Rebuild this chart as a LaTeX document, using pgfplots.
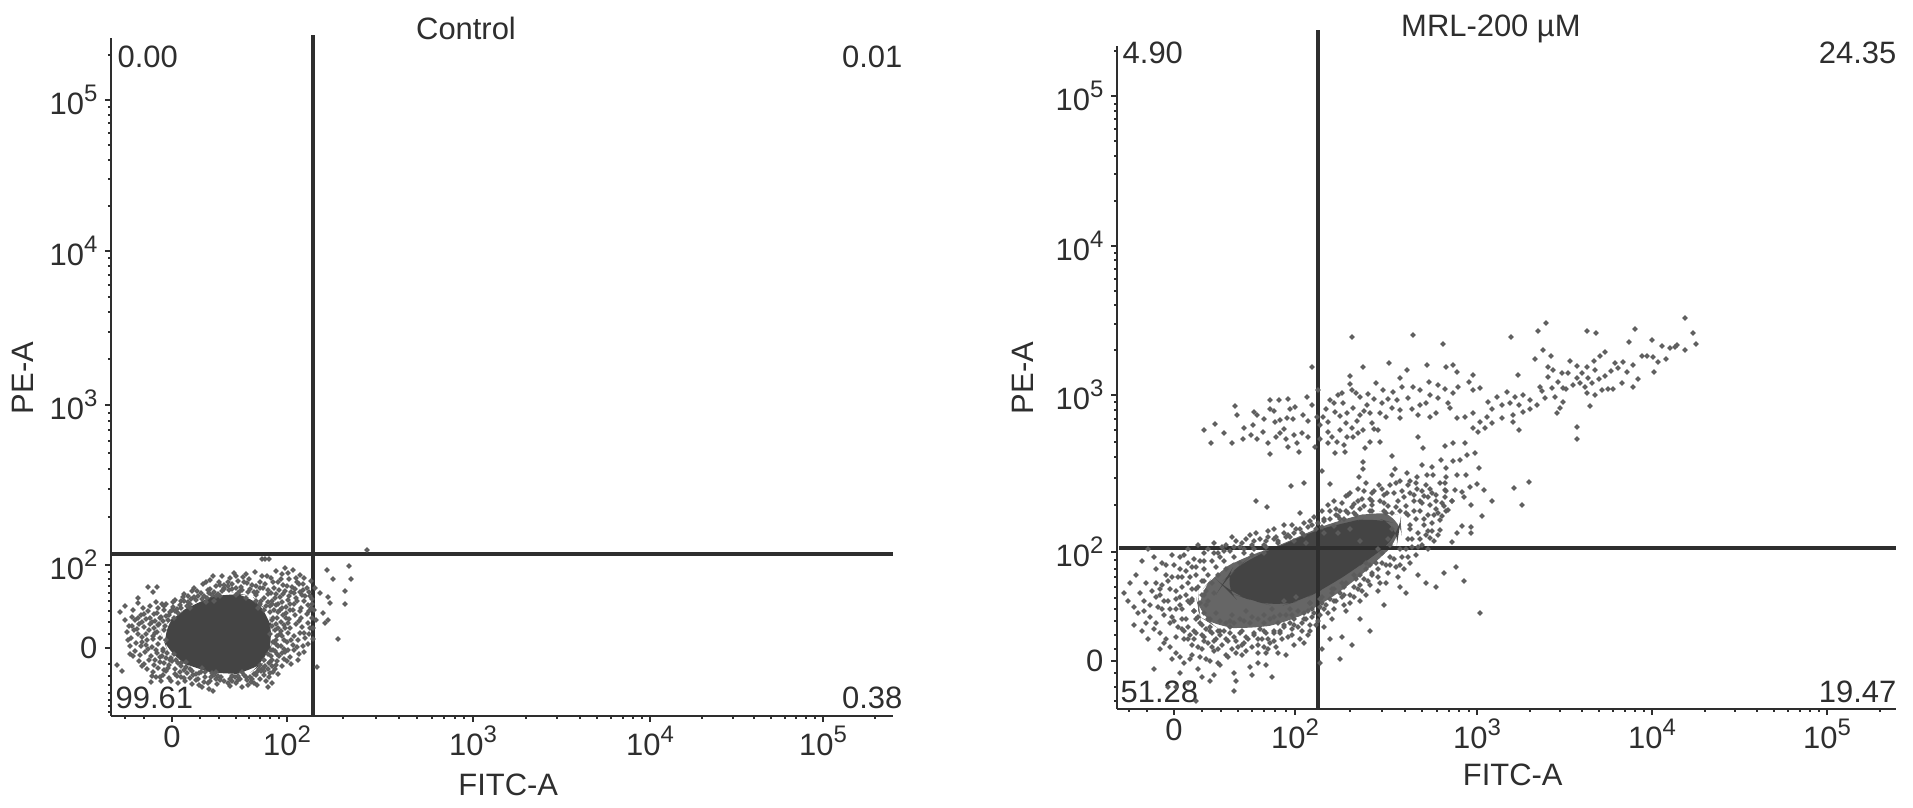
\documentclass[border=0pt]{standalone}
\usepackage{fontspec}
\setmainfont{Liberation Sans}
\usepackage{pgfplots}
\pgfplotsset{compat=1.18}

\definecolor{ink}{HTML}{2E2E2E}
\definecolor{dot}{HTML}{5C5C5C}
\definecolor{core}{HTML}{444444}
\definecolor{mid}{HTML}{666666}

\newcommand{\dec}[1]{10\raisebox{0.42em}{\fontsize{6.8}{7}\selectfont #1}}

% axes are in display channels (biexponential scale), 0 = the tick "0"
\pgfplotsset{
  flow/.style={
    scale only axis, anchor=south west, clip=false,
    axis lines=left, axis line style={-, ink, line width=0.7pt},
    tick align=outside, tick style={ink, line width=0.4pt},
    major tick length=0.06cm, minor tick length=0.03cm,
    xticklabels={0,\dec{2},\dec{3},\dec{4},\dec{5}},
    yticklabels={0,\dec{2},\dec{3},\dec{4},\dec{5}},
    tick label style={inner sep=0pt, text=ink},
    xticklabel style={yshift=-0.03cm},
    yticklabel style={xshift=-0.07cm},
    font=\fontsize{8.8}{10}\selectfont,
    xlabel=FITC-A, ylabel=PE-A,
    label style={text=ink},
    every axis title shift=0pt,
  },
  cell/.style={only marks, color=dot, mark=*, mark size=0.55pt, mark options={draw=none, fill=dot, fill opacity=0.85}},
  blob/.style={draw=none, no markers, rounded corners=6pt},
  gate/.style={ink, line width=1pt, no markers},
}

\begin{document}
\begin{tikzpicture}
\path[use as bounding box] (0,0) rectangle (19.13,8.08);

% ===== Control =====
\begin{axis}[flow,
  at={(1.11cm,0.92cm)}, width=7.82cm, height=6.78cm,
  xmin=-61, xmax=721, ymin=-68, ymax=610,
  xtick={0,115,301,478,651}, ytick={0,83,243,397,548},
  minor xtick={-47,-28,28,47,64,77,88,98,107,171,204,227,245,260,272,283,292,354,385,408,425,439,451,461,470,530,561,582,599,613,624,634,643,703},
  minor ytick={-64,-58,-52,-45,-37,-28,-16,14,26,37,47,55,62,69,76,131,159,179,195,207,218,227,235,289,316,336,351,363,373,382,390,442,469,488,503,515,525,533,541,593},
  title=Control,
  title style={at={(axis description cs:0.454,1.0147)}, anchor=center, inner sep=0pt, text=ink},
  xlabel style={at={(axis description cs:0.508,-0.102)}, anchor=center},
  ylabel style={at={(axis description cs:-0.1125,0.4985)}, anchor=center},
]
\addplot[blob, fill=core] coordinates {
 (-7,4)(-12,18)(4,33)(26,47)(56,56)(80,52)(96,36)(102,11)(95,-12)(78,-25)(53,-27)(26,-22)(-2,-9)} -- cycle;
\addplot[cell] coordinates {
(93,89)(97,89)(90,89)(177,82)(155,78)(161,69)(179,69)(173,57)(173,44)(166,9)(156,51)(158,45)(151,35)(156,28)(153,25)(148,55)(145,-19)(195,98)
(-55,-17)(-50,-23)(-42,-6)(-47,42)(-52,36)(-40,31)(-47,28)(-45,16)(-24,61)(-15,61)(-19,56)(-34,50)(-34,45)(-21,-34)(-12,-29)(41,-43)(96,-39)(100,-35)(85,-37)
(50,72)(62,75)(71,71)(83,76)(95,72)(110,74)(121,78)(128,73)(113,80)(104,77)(38,68)(47,66)(58,70)(66,67)(77,69)(88,66)(99,70)(106,66)(117,69)(125,66)(132,70)(22,60)(31,64)(44,62)(52,60)(60,64)(69,61)(75,65)(84,62)(93,64)(102,60)(111,63)(120,61)(127,64)(135,60)(139,67)
(12,54)(20,57)(29,55)(38,59)(46,54)(57,58)(66,55)(78,59)(85,56)(96,58)(104,54)(113,57)(122,55)(131,58)(138,52)(3,48)(11,51)(19,49)(26,52)(35,50)(42,47)(92,50)(100,47)(108,51)(116,48)(124,50)(132,47)(140,49)(-6,44)(1,46)(8,43)(15,42)(98,42)(106,44)(114,41)(122,44)(129,40)(136,43)(142,38)
(-14,40)(-8,38)(-2,36)(5,39)(-24,37)(-18,34)(-11,31)(-4,28)(-31,33)(-26,29)(-20,26)(-14,23)(-7,22)(-37,28)(-33,24)(-28,21)(-23,18)(-17,15)(-38,18)(-34,14)(-30,11)(-25,8)(-19,9)(-41,10)(-36,5)(-31,2)(-26,3)(-20,1)(-14,4)(-42,2)(-37,-3)(-32,-7)(-27,-4)(-21,-8)(-15,-5)(-9,-3)(-33,-13)(-28,-16)(-23,-12)(-18,-17)(-12,-14)(-6,-10)(0,-13)
(-25,-21)(-19,-24)(-14,-20)(-8,-22)(-3,-17)(3,-21)(9,-18)(-16,-29)(-9,-27)(-3,-30)(3,-26)(9,-29)(15,-25)(21,-27)(6,-35)(13,-33)(20,-36)(26,-31)(32,-34)(39,-29)(45,-36)(30,-39)(37,-41)(52,-33)(58,-38)(64,-35)(70,-39)(75,-32)(82,-35)(88,-31)(92,-27)(97,-29)(101,-24)(106,-26)(110,-18)(115,-13)(104,-17)(96,-21)(89,-23)(84,-27)
(100,-12)(107,-8)(113,-4)(118,-9)(122,-2)(127,-6)(103,-3)(109,2)(115,6)(121,3)(126,8)(131,2)(104,8)(110,12)(116,15)(122,12)(128,15)(133,10)(137,14)(106,20)(112,23)(118,20)(124,24)(130,21)(136,25)(141,20)(105,30)(111,33)(117,29)(123,33)(129,30)(135,34)(140,30)(108,38)(118,38)(128,37)(137,37)
(36,58)(52,63)(-29,40)(-39,38)(-43,22)(27,-37)(60,-33)(76,-37)(119,-16)(126,-12)(132,-4)(136,4)(141,9)(140,44)(143,60)(128,56)(117,52)
(34,66)(41,72)(56,66)(64,72)(74,74)(90,72)(101,66)(109,69)(116,75)(124,70)(131,64)(137,56)(-10,44)(-16,46)(-22,42)(-28,34)(-34,30)(-40,22)(-44,8)(-39,-8)(-30,-18)(-20,-28)(-11,-33)(-1,-33)(12,-30)(24,-32)(36,-35)(48,-32)(56,-35)(66,-32)(79,-34)(94,-33)(103,-21)(112,-11)(116,-2)(125,1)(132,15)(138,20)(144,28)(139,40)
(110,46)(118,44)(125,47)(133,52)(106,36)(114,35)(121,38)(127,27)(116,25)(109,17)(119,8)(112,-1)(105,-6)(98,-14)(91,-20)(78,-29)(68,-31)(44,-31)(33,-29)(18,-30)(5,-28)(-6,-23)(-17,-12)(-24,-1)(-30,6)(-35,19)(-30,26)(-22,30)(-15,35)(-8,42)(1,41)(9,47)(16,52)(25,57)(42,56)(50,57)
(70,58)(82,56)(91,60)(99,55)(107,58)(115,62)(123,59)(130,53)(119,56)(111,54)(103,50)(96,46)(102,38)(100,28)(103,18)(101,6)(96,-6)(-12,10)(-18,20)(-26,14)(-10,-8)(-4,-20)(8,-24)
(-22,24)(-19,12)(-16,-2)(-12,-9)(-8,-15)(-2,-12)(6,-15)(12,-22)(18,-21)(24,-26)(29,-24)(38,-33)(42,-27)(49,-29)(58,-31)(63,-29)(72,-27)(80,-31)(85,-24)(92,-23)(98,-25)(100,-18)(105,-13)(110,-5)(106,2)(112,8)(108,14)(113,20)(109,26)(114,30)(110,40)(104,43)(96,54)(88,60)(80,63)(72,66)(64,60)(56,62)(48,63)(40,53)(32,52)(24,48)(18,44)(12,47)(6,35)(0,38)(-6,32)(-12,30)(-17,27)
(-15,16)(-13,24)(-9,27)(-3,33)(3,37)(9,40)(16,46)(22,51)(30,49)(37,55)(44,52)(52,59)(60,59)(68,57)(76,56)(84,53)(89,47)(94,42)(98,36)(101,30)(104,24)(105,12)(104,4)(101,-2)(99,-8)(97,-15)(93,-18)(87,-21)(82,-26)(74,-29)(66,-28)(60,-28)(46,-28)(40,-25)(33,-24)(27,-25)(20,-23)(14,-19)(9,-15)(4,-12)(-1,-10)(-5,-5)(-9,-1)
(100,44)(92,38)(88,44)(84,47)(100,22)(98,14)(99,-2)(92,-12)(88,-17)(70,-24)(44,-24)(30,-20)(14,-14)(2,-6)(-6,8)(-8,18)(2,30)(18,40)(34,46)(48,52)(64,53)(74,50)(86,40)
};
% gates
\addplot[gate] coordinates {(141,-68) (141,613)};
\addplot[gate] coordinates {(-61,94) (721,94)};
\node[anchor=west, inner sep=0pt, text=ink] at (axis cs:-55,591) {0.00};
\node[anchor=east, inner sep=0pt, text=ink] at (axis cs:731,591) {0.01};
\node[anchor=west, inner sep=0pt, text=ink] at (axis cs:-57,-50) {99.61};
\node[anchor=east, inner sep=0pt, text=ink] at (axis cs:731,-50) {0.38};
\end{axis}

% ===== MRL-200 =====
\begin{axis}[flow,
  at={(11.17cm,0.99cm)}, width=7.79cm, height=6.63cm,
  xmin=-57, xmax=722, ymin=-48, ymax=615,
  xtick={0,121,303,478,653}, ytick={0,109,266,415,565},
  minor xtick={-45,-27,28,47,64,78,90,101,112,176,208,231,248,263,275,285,295,356,386,408,425,439,451,461,470,531,561,583,600,614,626,636,645,706},
  minor ytick={-40,-26,-12,12,26,40,52,63,74,84,92,101,156,183,204,219,231,242,251,259,311,337,356,370,382,392,401,408,460,487,505,520,532,542,550,557,610},
  title={MRL-200 µM},
  title style={at={(axis description cs:0.48,1.0256)}, anchor=center, inner sep=0pt, text=ink},
  xlabel style={at={(axis description cs:0.508,-0.0995)}, anchor=center},
  ylabel style={at={(axis description cs:-0.1207,0.499)}, anchor=center},
]
\addplot[blob, fill=mid] coordinates {
 (24,54)(24,66)(42,88)(69,104)(103,114)(136,130)(169,142)(203,150)(226,146)(228,124)(205,102)(176,76)(143,54)(113,38)(76,32)(42,34)(26,44)} -- cycle;
\addplot[blob, fill=core] coordinates {
 (64,94)(76,104)(103,113)(136,129)(169,138)(199,144)(226,136)(224,123)(203,108)(183,93)(153,74)(129,61)(103,54)(76,61)(56,68)(48,76)(53,84)} -- cycle;
\addplot[cell] coordinates {
(178,324)(239,326)(269,317)(337,324)(364,330)(372,338)(413,330)(422,328)(461,332)(511,343)(519,328)(522,317)(455,319)(478,321)(488,315)(496,313)(503,316)(511,311)(501,314)(468,305)(473,305)(479,304)(484,299)(492,302)(480,289)(464,282)(459,274)(448,278)(453,289)(449,299)(441,298)(444,293)(439,272)(434,272)(428,271)(421,266)(416,255)(413,268)(411,274)(431,309)(426,305)(420,300)(413,294)(403,295)(396,300)(421,291)(431,285)(414,283)(408,288)(403,283)(399,276)(394,288)(388,288)(379,291)(374,294)(374,284)(384,279)(389,273)(378,273)(366,274)(361,302)(369,311)(377,305)(344,286)(381,264)(389,259)(386,253)(383,248)(371,263)(363,256)(356,261)(349,266)(341,264)(333,269)(323,264)(314,259)(306,273)(299,271)(349,249)(339,246)(339,239)(328,243)(318,238)(313,244)(306,239)(299,233)(304,229)(311,233)(345,231)(403,234)(403,222)(299,248)(291,244)(283,243)(276,253)(274,258)(279,268)(271,272)(264,276)(284,274)(299,286)(295,279)(283,289)(279,296)(272,294)(253,296)(233,291)(215,298)(189,294)(138,294)(176,285)(176,277)(202,278)(226,283)(255,279)(228,274)(239,274)(246,271)(256,266)(219,269)(209,271)(194,267)(186,264)(178,271)(164,266)(156,261)(169,258)(179,253)(193,256)(208,258)(223,261)(234,263)(246,256)(264,263)(226,251)(218,253)(206,248)(196,248)(186,246)(173,248)(161,249)(226,243)(244,246)(256,244)(198,238)(189,231)(178,233)(166,231)(154,229)(154,239)(173,224)(163,219)(154,218)(179,224)(196,219)(206,219)(204,231)(161,208)(171,209)(191,213)(218,205)(244,224)(249,213)(271,215)(279,218)(291,218)(301,208)(293,206)(286,201)(279,200)(267,201)(258,194)(248,196)(189,199)(189,192)(185,184)(221,192)(233,188)(243,184)(253,186)(259,186)(272,193)(272,184)(283,186)(292,186)(305,193)(303,177)(296,174)(310,171)(288,169)(290,164)(297,156)(318,160)(308,145)(281,171)(340,173)(355,179)(348,156)(288,135)(297,134)(297,128)(283,128)(278,119)(256,123)(271,178)(271,171)(271,164)(278,160)(274,151)(266,141)(266,131)
(30,231)(37,218)(41,237)(50,228)(58,218)(61,255)(63,246)(69,222)(70,233)(77,226)(79,236)(80,249)(83,246)(83,222)(89,229)(94,218)(96,261)(96,252)(100,250)(96,207)(101,239)(105,261)(106,241)(106,228)(113,243)(114,262)(114,214)(119,242)(121,254)(123,218)(125,209)(128,228)(129,246)(133,264)(134,224)(138,256)(141,214)(143,244)(149,244)(144,271)(117,175)(130,178)(156,177)(148,190)(82,160)(93,154)(174,166)
(160,258)(166,245)(172,238)(183,240)(190,250)(200,262)(212,244)(158,224)(170,216)(184,228)(200,232)(152,252)(168,268)(182,268)(214,262)(238,252)(252,258)(262,248)(318,252)(328,256)(336,258)(345,256)(356,252)(368,270)(392,272)(406,278)(418,278)(425,282)(437,290)(459,296)(110,232)(120,226)(116,252)(146,236)(146,222)(134,240)(90,242)(102,224)(112,222)
(150,142)(160,135)(170,142)(164,145)(156,150)(172,150)(180,148)(190,155)(198,150)(206,160)(214,155)(224,160)(232,155)(240,160)(250,165)(262,160)(270,155)(278,160)(160,160)(172,165)(180,157)(190,170)(196,162)(205,176)(213,168)(222,178)(228,170)(236,180)(243,172)(252,176)(258,168)(266,178)(272,170)(184,160)(200,170)(218,186)(236,168)(246,150)(254,146)(262,152)(268,145)(258,138)(250,136)(242,142)(234,146)(226,150)(218,148)(210,150)(236,132)(244,128)(252,126)(260,120)(248,116)(238,122)(232,112)(242,106)(236,98)(228,104)(222,94)(214,88)(224,84)(212,78)(204,84)(196,76)(204,70)(192,66)(184,72)(186,60)(176,58)(168,64)(172,50)(160,52)(152,56)(158,42)(146,46)(138,52)(150,34)(142,36)(132,42)(134,26)(124,34)(116,38)(126,22)(114,24)(106,30)(100,20)(92,28)(84,16)(74,22)(64,14)(54,20)(44,12)(34,18)(24,14)
(136,140)(126,148)(118,136)(110,128)(102,124)(94,130)(86,122)(76,126)(68,118)(58,124)(48,114)(40,118)(30,108)(24,116)(20,102)(14,98)(10,106)(6,92)(0,96)(-2,84)(-8,86)(-12,76)(-14,66)(-10,60)(-16,54)(-10,46)(-4,38)(2,24)(8,32)(14,22)(20,30)(28,26)(36,34)(46,26)(56,34)(66,28)(76,38)(86,32)(96,42)(106,46)(116,52)(-20,104)(-26,112)(-32,100)(-38,86)(-44,78)(-50,68)(-46,60)(-40,54)(-36,48)(-30,60)(-24,44)(-28,38)(-20,32)(-14,28)(-10,18)(-4,14)(2,8)(-22,70)(-28,78)(-18,92)(-34,68)
(10,-2)(18,6)(24,-8)(32,2)(40,-14)(46,-4)(54,4)(60,-12)(68,6)(76,-6)(84,-2)(92,8)(102,14)(112,6)(120,16)(130,18)(136,30)(148,12)(156,22)(168,24)(178,16)(-20,-8)(-6,-26)(6,-12)(14,-22)(28,-16)(36,-20)(2,-26)(62,-20)(78,-14)(92,-4)(98,-16)(22,-40)(60,-30)(146,-2)(166,2)(186,42)(196,30)(210,56)(232,68)(252,78)(290,80)(306,48)(270,88)(282,94)(244,86)(226,74)(262,74)
(0,40)(8,52)(16,58)(24,44)(32,56)(14,78)(22,86)(30,92)(38,100)(46,104)(56,110)(66,114)(78,116)(92,120)(104,118)(116,124)(128,128)(142,132)(150,128)(38,28)(52,38)(70,40)(84,42)(98,52)(110,60)(122,64)(136,58)(148,64)(160,72)(172,78)(186,86)(196,96)(208,108)(216,116)(6,64)(2,52)(12,42)(28,66)(18,72)(42,48)(34,42)(58,46)(72,50)(30,80)(186,120)(164,128)(176,132)(120,120)(132,118)
(-6,60)(-4,72)(4,84)(12,90)(18,94)(26,100)(34,112)(44,108)(52,116)(62,120)(72,122)(82,128)(94,124)(100,132)(110,136)(120,128)(130,138)(140,144)(148,150)(154,156)(162,152)(168,158)(176,168)(184,172)(192,178)(198,168)(208,172)(216,176)(226,180)(234,176)(242,178)(248,170)(256,172)(262,166)(268,158)(272,150)(264,148)(256,156)(248,158)(240,150)(250,142)(258,130)(264,126)(254,112)(244,114)(234,104)(226,96)(216,96)(206,78)(198,86)(188,70)(180,64)(170,56)(162,60)(154,48)(144,40)(136,36)(128,30)(118,26)(108,22)(96,18)(88,22)(78,14)(68,16)(58,12)(48,16)(38,14)(28,12)(18,16)(10,22)(4,34)(-2,44)
(-12,52)(-18,64)(-14,72)(-6,80)(2,62)(8,74)(14,60)(20,50)(26,38)(32,32)(42,22)(50,30)(60,24)(70,18)(80,26)(90,14)(100,28)(110,36)(120,42)(130,48)(20,22)(30,20)(40,10)(52,6)(62,8)(72,10)(84,8)(94,12)(104,8)(16,2)(26,4)(36,0)(44,-2)(-2,2)(6,4)(-8,22)(-14,12)(-18,38)(-26,22)(-32,30)(-40,36)(-24,56)(-30,50)(-18,78)(-8,96)(6,104)(14,112)(-12,98)(-2,106)
(-4,52)(2,70)(8,84)(16,84)(22,94)(30,100)(40,108)(50,110)(60,114)(70,112)(80,120)(90,116)(100,122)(112,124)(122,132)(134,134)(144,138)(156,142)(166,150)(178,154)(188,162)(198,160)(210,166)(220,168)(230,164)(240,166)(246,160)(254,164)(260,146)(254,130)(246,122)(238,114)(230,92)(220,102)(212,96)(204,92)(194,80)(186,76)(176,66)(166,68)(156,62)(146,54)(138,44)(128,38)(118,32)(106,28)(94,22)(84,22)(72,24)(62,20)(52,22)(40,20)(30,24)(22,28)(14,34)(8,42)(6,56)(12,66)(18,62)(24,74)(30,66)(10,30)(16,26)(44,30)(60,38)(90,38)(104,38)(118,46)(134,50)(148,58)(158,68)(170,74)(182,82)(192,92)(202,98)
(20,50)(18,60)(22,72)(28,80)(34,86)(42,94)(50,100)(60,104)(70,108)(80,112)(92,114)(104,120)(114,126)(126,132)(138,136)(150,140)(162,146)(174,148)(186,152)(198,156)(210,158)(222,154)(232,148)(236,136)(234,122)(226,112)(216,104)(208,98)(198,88)(190,82)(180,74)(170,66)(160,60)(150,52)(140,48)(130,42)(120,36)(110,34)(100,30)(90,30)(80,28)(68,30)(56,28)(46,30)(36,30)(28,36)(22,42)
(26,58)(32,70)(38,78)(44,86)(52,92)(66,98)(78,106)(90,108)(34,60)(40,68)(30,48)(36,42)(46,40)(56,40)(66,42)(78,44)(90,46)(100,44)(112,46)(124,50)(136,58)(146,62)(158,72)(168,78)(180,86)(192,98)(204,112)(214,122)(218,132)(212,148)(196,150)(182,146)(166,142)(148,134)(130,126)
};
% gates
\addplot[gate] coordinates {(144,-48) (144,631)};
\addplot[gate] coordinates {(-55,113) (722,113)};
\node[anchor=west, inner sep=0pt, text=ink] at (axis cs:-52,608) {4.90};
\node[anchor=east, inner sep=0pt, text=ink] at (axis cs:723,608) {24.35};
\node[anchor=west, inner sep=0pt, text=ink] at (axis cs:-54,-31) {51.28};
\node[anchor=east, inner sep=0pt, text=ink] at (axis cs:723,-31) {19.47};
\end{axis}
\end{tikzpicture}
\end{document}
